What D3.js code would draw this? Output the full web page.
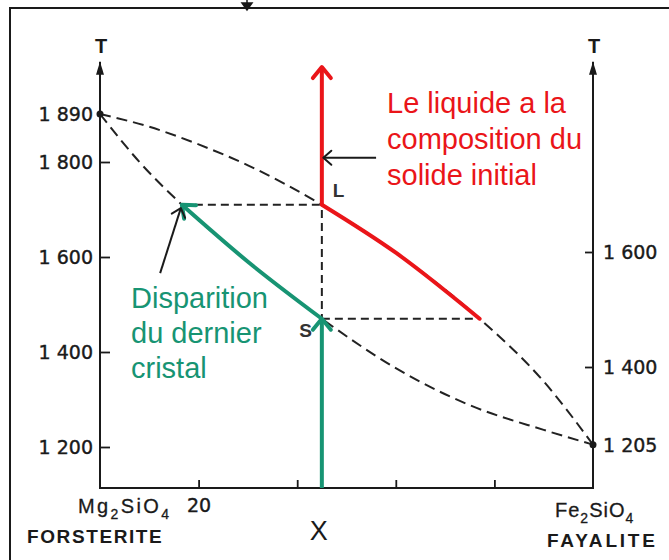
<!DOCTYPE html>
<html>
<head>
<meta charset="utf-8">
<script src="https://cdn.jsdelivr.net/npm/d3@7"></script>
<style>
  body { margin: 0; background: #fff; }
  svg { display: block; font-family: "Liberation Sans", Arial, sans-serif; }
</style>
</head>
<body>
<svg id="chart" width="669" height="560"></svg>
<script>
// composition X (% Fe2SiO4) and temperature T (°C)
const liquidusX = [0, 10, 20, 30, 45, 60, 77, 90, 100];
const liquidusT = [1890, 1866, 1833, 1793, 1710, 1609, 1470, 1338, 1205];
const solidusX = [0, 8, 16.6, 30, 45, 60, 75, 90, 100];
const solidusT = [1890, 1800, 1710, 1590, 1470, 1366, 1288, 1236, 1205];

const startX = 45;        // initial solid composition
const tieTop = [16.6, 1710];   // last crystal / liquid L
const tieBottom = [77, 1470];  // first liquid at S
const axisTopT = 1988;
const redTopT = 1978;

const leftTicks = [1200, 1400, 1600, 1800, 1890];
const rightTicks = [1205, 1400, 1600];
const xTicks = [20, 40, 60, 80];

const noteLiquid = [[56, 1808], [45.3, 1808]];
const noteCrystal = [[12.2, 1566], [16.4, 1703]];

const redLines = ["Le liquide a la", "composition du", "solide initial"];
const greenLines = ["Disparition", "du dernier", "cristal"];

const RED = "#ea1519";
const GREEN = "#179473";
const INK = "#1a1a1a";

const svg = d3.select("#chart");

// scales (the original drawing is not quite linear, hence the extra stops)
const x = d3.scaleLinear().domain([0, 100]).range([100, 593]);
const y = d3.scaleLinear().domain([1200, 1800, 1890]).range([447, 162, 114]);
const yRight = d3.scaleLinear().domain([1205, 1400, 1600]).range([445, 367, 252]);
const baseY = 488;

const fmt = d3.formatLocale({ decimal: ".", thousands: " ", grouping: [3], currency: ["", ""] }).format(",");

// markers
const defs = svg.append("defs");
function chevron(id, color, len, half, w) {
  defs.append("marker")
    .attr("id", id)
    .attr("markerUnits", "userSpaceOnUse")
    .attr("viewBox", `${-len - w} ${-half - w} ${len + 2 * w} ${2 * half + 2 * w}`)
    .attr("markerWidth", len + 2 * w)
    .attr("markerHeight", 2 * half + 2 * w)
    .attr("refX", 0).attr("refY", 0)
    .attr("orient", "auto")
    .append("path")
    .attr("d", `M${-len},${-half}L0,0L${-len},${half}`)
    .attr("fill", "none")
    .attr("stroke", color)
    .attr("stroke-width", w)
    .attr("stroke-linecap", "round")
    .attr("stroke-linejoin", "round");
}
chevron("headRed", RED, 11, 9, 4);
chevron("headGreen", GREEN, 11, 9, 4);
chevron("headBlack", INK, 8, 7, 2);
defs.append("marker")
  .attr("id", "axisHead")
  .attr("markerUnits", "userSpaceOnUse")
  .attr("viewBox", "-13 -5 14 10")
  .attr("markerWidth", 14).attr("markerHeight", 10)
  .attr("refX", 0).attr("refY", 0)
  .attr("orient", "auto")
  .append("path")
  .attr("d", "M-13,-4L0,0L-13,4Z")
  .attr("fill", INK);

// frame
svg.append("rect")
  .attr("x", 10).attr("y", 8)
  .attr("width", 700).attr("height", 600)
  .attr("fill", "none").attr("stroke", INK).attr("stroke-width", 2);
svg.append("path")
  .attr("d", "M247,0L247,4M242,3L252,3L247,10Z")
  .attr("stroke", INK).attr("fill", INK).attr("stroke-width", 1.5);

// axes
const leftAxis = svg.append("g")
  .attr("transform", `translate(${x(0)},0)`)
  .call(d3.axisLeft(y).tickValues(leftTicks).tickSize(-10).tickSizeOuter(0).tickPadding(7).tickFormat(fmt));
const rightAxis = svg.append("g")
  .attr("transform", `translate(${x(100)},0)`)
  .call(d3.axisRight(yRight).tickValues(rightTicks).tickSize(-8).tickSizeOuter(0).tickPadding(10).tickFormat(fmt));
const bottomAxis = svg.append("g")
  .attr("transform", `translate(0,${baseY})`)
  .call(d3.axisBottom(x).tickValues(xTicks).tickSize(-8).tickSizeOuter(0).tickPadding(11)
    .tickFormat(d => d === 20 ? String(d) : ""));

[leftAxis, rightAxis, bottomAxis].forEach(g => {
  g.select(".domain").remove();
  g.attr("font-family", null).attr("font-size", null);
  g.selectAll(".tick line").attr("stroke", INK).attr("stroke-width", 1.8);
  g.selectAll(".tick text")
    .attr("fill", INK).attr("font-size", 19)
    .attr("font-family", "'DejaVu Sans', sans-serif")
    .attr("stroke", INK).attr("stroke-width", 0.4);
});
leftAxis.selectAll(".tick").filter(d => d === 1890).select("line").remove();
rightAxis.selectAll(".tick").filter(d => d === 1205).select("line").remove();

// axis lines with arrows
const axisLine = svg.append("g").attr("fill", "none").attr("stroke", INK).attr("stroke-width", 2);
axisLine.append("path")
  .attr("d", `M${x(0)},${baseY}L${x(0)},${y(axisTopT)}`)
  .attr("marker-end", "url(#axisHead)");
axisLine.append("path")
  .attr("d", `M${x(100)},${baseY}L${x(100)},${y(axisTopT)}`)
  .attr("marker-end", "url(#axisHead)");
axisLine.append("path")
  .attr("d", `M${x(0) - 1},${baseY}L${x(100) + 1},${baseY}`);

svg.selectAll(".tLabel")
  .data([x(0), x(100)])
  .enter().append("text")
  .attr("x", d => d + 1).attr("y", 53)
  .attr("text-anchor", "middle")
  .attr("font-size", 20).attr("font-weight", "bold").attr("fill", INK)
  .text("T");

// curves
const line = d3.line().x(d => x(d[0])).y(d => y(d[1])).curve(d3.curveMonotoneX);
const liquidus = liquidusX.map((v, i) => [v, liquidusT[i]]);
const solidus = solidusX.map((v, i) => [v, solidusT[i]]);

const dashed = svg.append("g").attr("fill", "none").attr("stroke", "#222")
  .attr("stroke-width", 2).attr("stroke-dasharray", "11,6");
dashed.append("path").attr("d", line(liquidus));
dashed.append("path").attr("d", line(solidus));

const ties = svg.append("g").attr("fill", "none").attr("stroke", "#222")
  .attr("stroke-width", 2).attr("stroke-dasharray", "8,5");
ties.append("path").attr("d", `M${x(tieTop[0])},${y(tieTop[1])}L${x(startX)},${y(tieTop[1])}`);
ties.append("path").attr("d", `M${x(startX)},${y(tieBottom[1])}L${x(tieBottom[0])},${y(tieBottom[1])}`);
ties.append("path").attr("d", `M${x(startX)},${y(redTopT)}L${x(startX)},${y(tieBottom[1])}`);

// end points
svg.selectAll(".end")
  .data([[0, 1890], [100, 1205]])
  .enter().append("circle")
  .attr("cx", d => x(d[0])).attr("cy", d => y(d[1]))
  .attr("r", 3.5).attr("fill", INK);

// red path: liquid composition, then vertical rise
const redSeg = liquidus.filter(d => d[0] >= startX && d[0] <= tieBottom[0]);
svg.append("path")
  .attr("d", line(redSeg))
  .attr("fill", "none").attr("stroke", RED).attr("stroke-width", 4).attr("stroke-linecap", "round");
svg.append("path")
  .attr("d", `M${x(startX)},${y(tieTop[1])}L${x(startX)},${y(redTopT)}`)
  .attr("fill", "none").attr("stroke", RED).attr("stroke-width", 4)
  .attr("marker-end", "url(#headRed)");

// green path: heating up to S, then along the solidus
svg.append("path")
  .attr("d", `M${x(startX)},${baseY}L${x(startX)},${y(tieBottom[1])}`)
  .attr("fill", "none").attr("stroke", GREEN).attr("stroke-width", 4)
  .attr("marker-end", "url(#headGreen)");
const greenSeg = solidus.filter(d => d[0] >= tieTop[0] && d[0] <= startX).reverse();
svg.append("path")
  .attr("d", line(greenSeg))
  .attr("fill", "none").attr("stroke", GREEN).attr("stroke-width", 4)
  .attr("marker-end", "url(#headGreen)");

// annotation arrows
[noteLiquid, noteCrystal].forEach(pts => {
  svg.append("path")
    .attr("d", d3.line().x(d => x(d[0])).y(d => y(d[1]))(pts))
    .attr("fill", "none").attr("stroke", INK).attr("stroke-width", 2)
    .attr("marker-end", "url(#headBlack)");
});

// point labels
svg.append("text")
  .attr("x", x(startX) + 11).attr("y", y(tieTop[1]) - 8)
  .attr("font-size", 19).attr("font-weight", "bold").attr("fill", "#333")
  .text("L");
svg.append("text")
  .attr("x", x(startX) - 10).attr("y", y(tieBottom[1]) + 18)
  .attr("text-anchor", "end")
  .attr("font-size", 19).attr("font-weight", "bold").attr("fill", "#333")
  .text("S");

// comments
svg.append("g").selectAll("text")
  .data(redLines).enter().append("text")
  .attr("x", 387).attr("y", (d, i) => 113 + i * 36)
  .attr("font-size", 29).attr("fill", RED)
  .text(d => d);
svg.append("g").selectAll("text")
  .data(greenLines).enter().append("text")
  .attr("x", 131).attr("y", (d, i) => 308 + i * 35)
  .attr("font-size", 29).attr("fill", GREEN)
  .text(d => d);

// bottom labels
function formula(g, xPos, yPos, parts) {
  const t = g.append("text").attr("x", xPos).attr("y", yPos)
    .attr("font-size", 20).attr("fill", INK)
    .attr("stroke", INK).attr("stroke-width", 0.3);
  parts.forEach(p => {
    t.append("tspan")
      .attr("font-size", p.sub ? 14 : 20)
      .attr("dy", p.sub ? 6 : (p.after ? -6 : 0))
      .text(p.t);
  });
  return t;
}
const labels = svg.append("g");
formula(labels, 78, 513, [{ t: "Mg" }, { t: "2", sub: true }, { t: "SiO", after: true }, { t: "4", sub: true }])
  .attr("letter-spacing", 2.4);
formula(labels, 555, 517, [{ t: "Fe" }, { t: "2", sub: true }, { t: "SiO", after: true }, { t: "4", sub: true }])
  .attr("letter-spacing", 1);
labels.append("text")
  .attr("x", 27).attr("y", 543)
  .attr("font-size", 19).attr("font-weight", "bold").attr("letter-spacing", 1.6).attr("fill", INK)
  .text("FORSTERITE");
labels.append("text")
  .attr("x", 547).attr("y", 547)
  .attr("font-size", 19).attr("font-weight", "bold").attr("letter-spacing", 2.8).attr("fill", INK)
  .text("FAYALITE");
labels.append("text")
  .attr("x", x(startX) - 3).attr("y", 540)
  .attr("text-anchor", "middle")
  .attr("font-size", 27).attr("fill", INK)
  .text("X");
</script>
</body>
</html>
